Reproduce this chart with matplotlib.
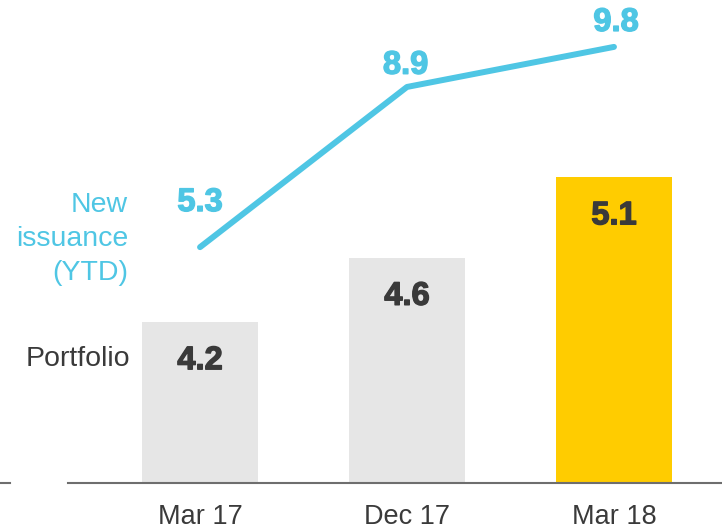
import matplotlib
matplotlib.use("Agg")
import matplotlib.pyplot as plt
from matplotlib.lines import Line2D
import matplotlib.patheffects as pe

plt.rcParams['font.family'] = ['Liberation Sans', 'DejaVu Sans']

categories = ["Mar 17", "Dec 17", "Mar 18"]
portfolio = [4.2, 4.6, 5.1]
new_issuance = [5.3, 8.9, 9.8]

bar_colors = ["#E6E6E6", "#E6E6E6", "#FFCC00"]
line_color = "#4FC6E4"
text_dark = "#3A3A3A"
line_label_offsets = [(0, 26), (-1, 9.5), (1.5, 11.5)]
value_font = dict(family="Liberation Sans", fontweight="bold", fontsize=23.5)

fig = plt.figure(figsize=(7.22, 5.32), dpi=100)
ax = fig.add_axes([68/722, 49/532, 1 - 68/722, 483/532])
x = list(range(len(categories)))

ax.bar(x, [p - 3.2 for p in portfolio], bottom=3.2, width=0.56, color=bar_colors, zorder=2)
ax.set_ylim(3.2, 6.2)
ax.set_xlim(-0.638, 2.522)
for xi, v in zip(x, portfolio):
    ax.annotate(f"{v}", (xi, v), xytext=(0, -34), textcoords="offset points",
                ha="center", va="baseline", color=text_dark,
                path_effects=[pe.withStroke(linewidth=1.0, foreground=text_dark)], **value_font)

ax2 = ax.twinx()
ax2.set_ylim(0, 483/44.5)
ax2.plot(x, new_issuance, color=line_color, lw=4.3, solid_capstyle="round",
         solid_joinstyle="round", zorder=3)
for xi, v, off in zip(x, new_issuance, line_label_offsets):
    ax2.annotate(f"{v}", (xi, v), xytext=off, textcoords="offset points",
                 ha="center", va="baseline", color=line_color,
                 path_effects=[pe.withStroke(linewidth=1.0, foreground=line_color)], **value_font)

for a in (ax, ax2):
    for s in a.spines.values():
        s.set_visible(False)
    a.set_yticks([])
ax.spines['bottom'].set_visible(True)
ax.spines['bottom'].set_color("#6E6E6E")
ax.spines['bottom'].set_linewidth(1.5)
ax.set_xticks(x)
ax.set_xticklabels(categories, fontsize=19.5, color=text_dark)
ax.tick_params(axis='x', length=0, pad=15)

# small left fragment of axis
fig.add_artist(Line2D([0, 10/722], [49/532, 49/532], color="#6E6E6E", lw=1.5))

fig.text(130/722, 1 - 359/532, "Portfolio", ha="right", va="center", fontsize=20.5, color=text_dark)
fig.text(128/722, 1 - 239/532, "New\nissuance\n(YTD)", ha="right", va="center", fontsize=20.5,
         color=line_color, linespacing=1.4)

fig.savefig("out.png", dpi=100)
